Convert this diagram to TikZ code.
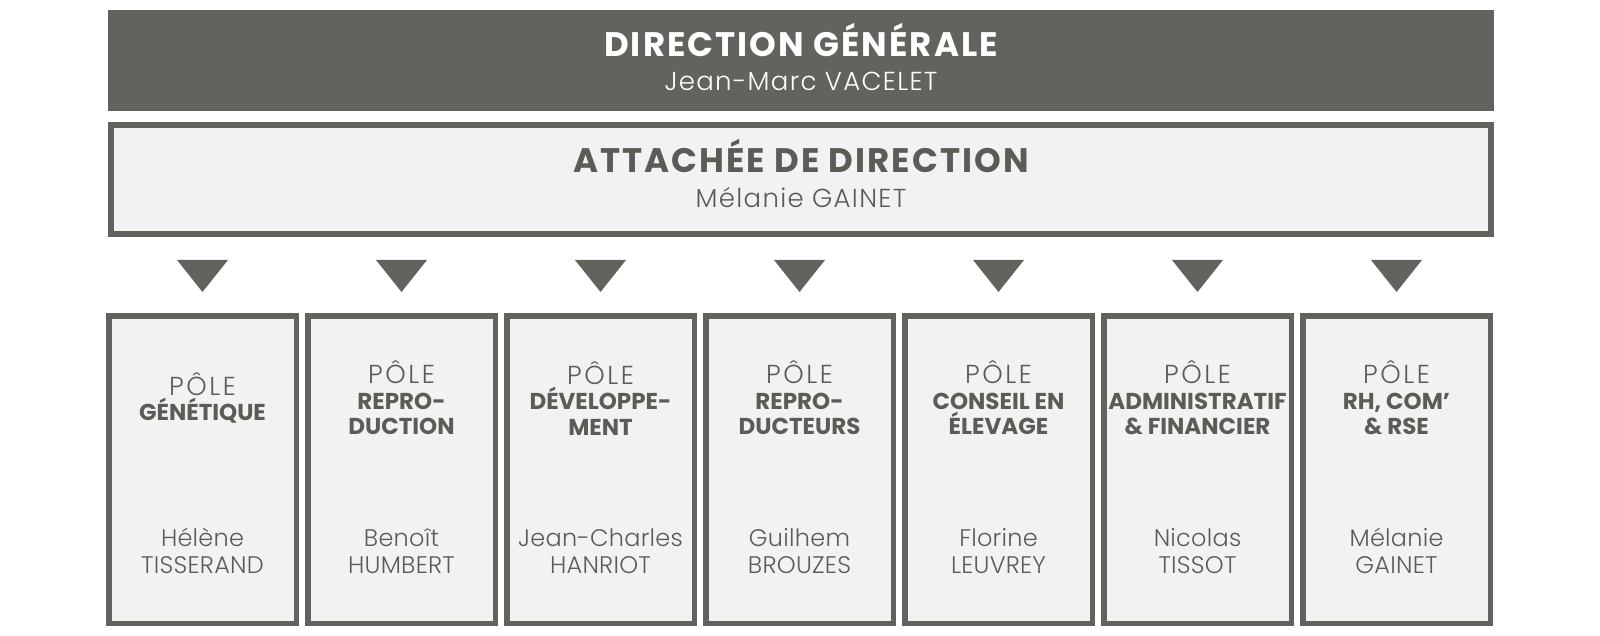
\documentclass[tikz,border=0pt]{standalone}
\usepackage{fontspec}
\setmainfont{Poppins}
\newfontfamily\fin{Poppins Light}
\usetikzlibrary{positioning,calc}
\definecolor{ardoise}{HTML}{63635E}
\definecolor{perle}{HTML}{F2F2F2}
\definecolor{encre}{HTML}{5C5C57}
\tikzset{
  dg/.style={fill=ardoise,minimum width=693pt,minimum height=50.5pt,inner sep=0pt},
  att/.style={draw=ardoise,line width=3pt,fill=perle,minimum width=690pt,minimum height=54.5pt,inner sep=0pt},
  pole/.style={draw=ardoise,line width=2.75pt,fill=perle,minimum width=93.75pt,minimum height=153.75pt,inner sep=0pt},
  grand/.style={anchor=base,inner sep=0pt,font=\fontsize{17}{17}\selectfont\bfseries\addfontfeature{LetterSpace=6}},
  nomgrand/.style={anchor=base,inner sep=0pt,font=\fin\fontsize{13}{15}\selectfont\addfontfeature{LetterSpace=5}},
  intitule/.style={align=center,inner sep=0pt,text=encre,font=\fontsize{11.5}{12.75}\selectfont\bfseries},
  chef/.style={align=center,inner sep=0pt,text=encre,font=\fin\fontsize{12}{13.5}\selectfont\addfontfeature{LetterSpace=1}},
  fleche/.style={fill=ardoise},
}
\newcommand\motpole{{\fin\mdseries\fontsize{13}{12.75}\selectfont\addfontfeature{LetterSpace=10}PÔLE}}
% un pole : numero, intitule, responsable
\newcommand\lepole[3]{%
  \node[pole] (p#1) at (202.5+199*#1,469.5) {};
  \node[intitule] (t#1) at (202.5+199*#1,398) {\motpole\\#2};
  \node[chef] (n#1) at (202.5+199*#1,551) {#3};
  \fill[fleche] ($(p#1.north)+(-25.5,-53)$) -- ++(51,0) -- ++(-25.5,32) -- cycle;
}
\begin{document}
\begin{tikzpicture}[x=0.5pt,y=-0.5pt]
  \useasboundingbox (0,0) rectangle (1600,636);
  % direction
  \node[dg] (dg) at (801,60.5) {};
  \node[grand,text=white] (dgtitre) at (801,57) {DIRECTION GÉNÉRALE};
  \node[nomgrand,text=white] (dgnom) at (801,91) {Jean-Marc VACELET};
  \node[att] (att) at (801,179.5) {};
  \node[grand,text=encre] (atttitre) at (801,173) {ATTACHÉE DE DIRECTION};
  \node[nomgrand,text=encre] (attnom) at (801,208) {Mélanie GAINET};
  % poles
  \lepole{0}{GÉNÉTIQUE}{Hélène\\TISSERAND}
  \lepole{1}{REPRO-\\DUCTION}{Benoît\\HUMBERT}
  \lepole{2}{DÉVELOPPE-\\MENT}{Jean-Charles\\HANRIOT}
  \lepole{3}{REPRO-\\DUCTEURS}{Guilhem\\BROUZES}
  \lepole{4}{CONSEIL EN\\ÉLEVAGE}{Florine\\LEUVREY}
  \lepole{5}{ADMINISTRATIF\\\& FINANCIER}{Nicolas\\TISSOT}
  \lepole{6}{RH, COM’\\\& RSE}{Mélanie\\GAINET}
\end{tikzpicture}
\end{document}
